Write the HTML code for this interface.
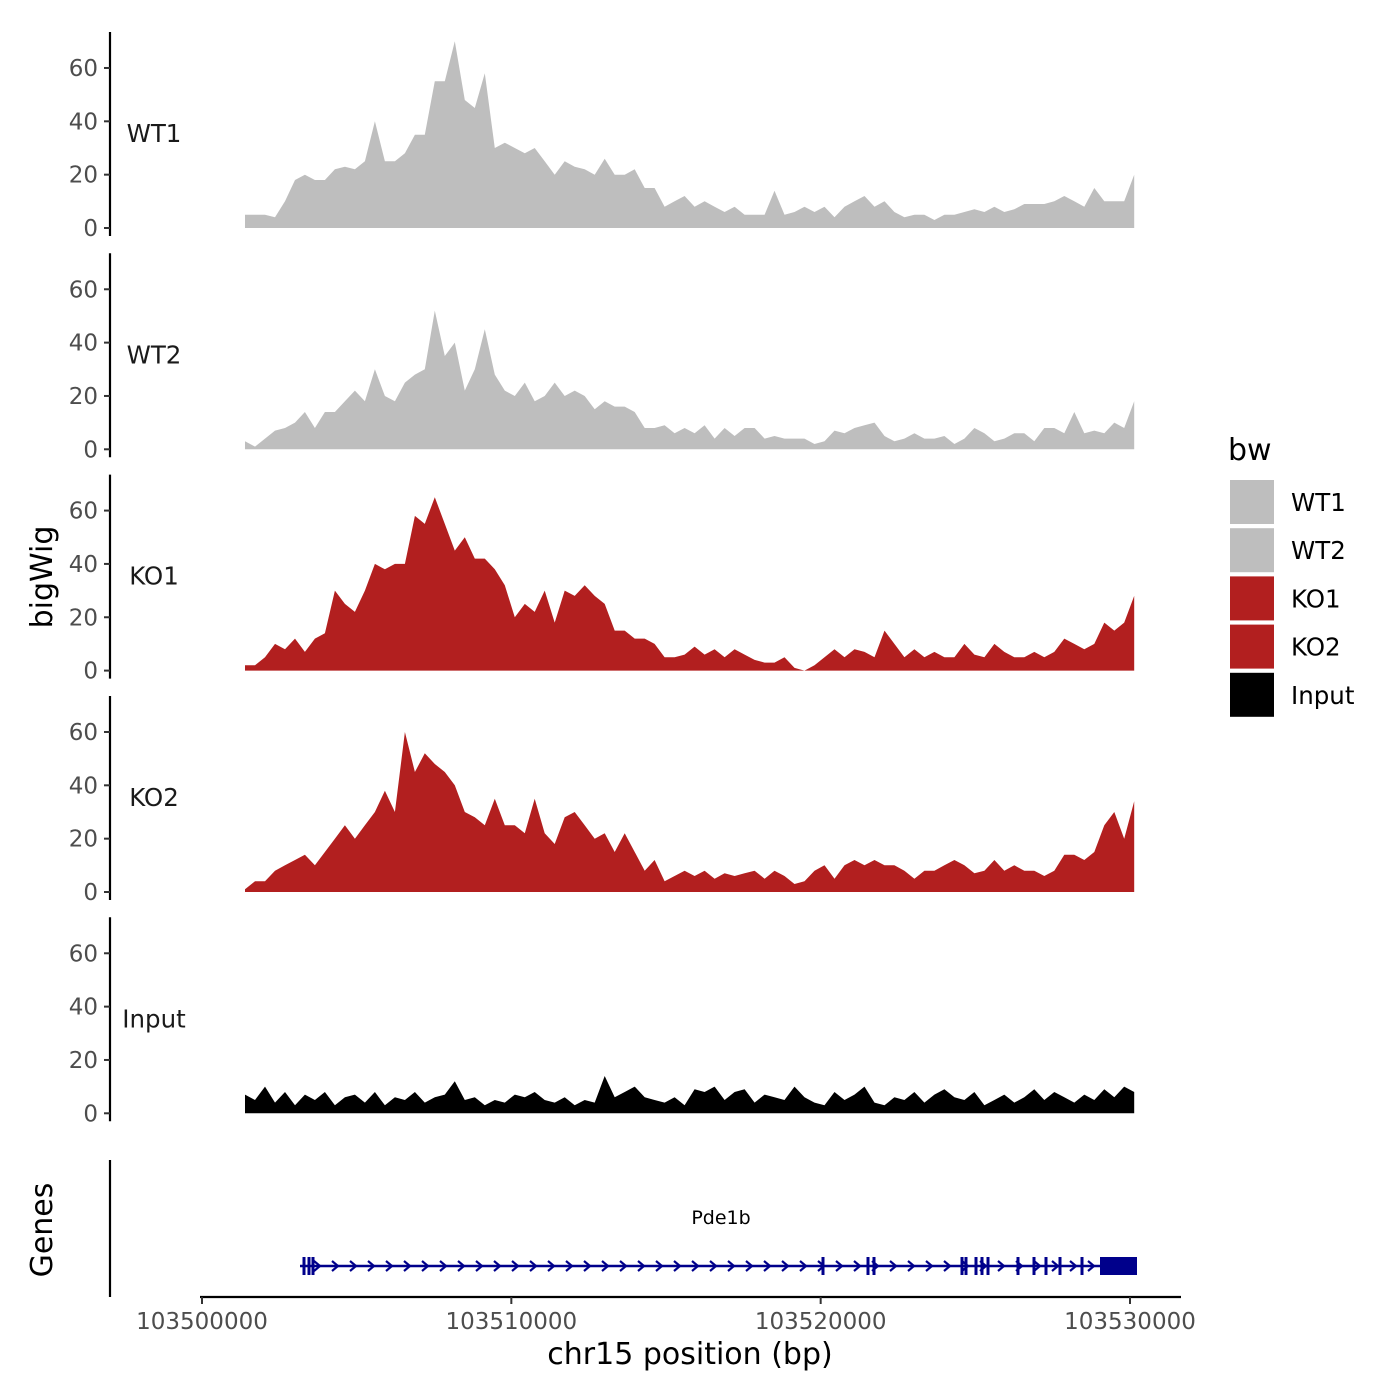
<!DOCTYPE html>
<html><head><meta charset="utf-8">
<style>
body{margin:0;background:#fff;}
svg{display:block;font-family:"DejaVu Sans","Liberation Sans",sans-serif;}
</style></head>
<body>
<svg id="chart" width="1400" height="1400" viewBox="0 0 1400 1400" xmlns="http://www.w3.org/2000/svg">
<g id="panels"></g>
<g id="genes"></g>
<g id="xaxis"></g>
<text transform="translate(52,577) rotate(-90)" text-anchor="middle" font-size="30" fill="#000">bigWig</text>
<text transform="translate(52,1230) rotate(-90)" text-anchor="middle" font-size="30" fill="#000">Genes</text>
<text x="690" y="1364" text-anchor="middle" font-size="30" fill="#000">chr15 position (bp)</text>
<g id="legend">
<text x="1228" y="460" font-size="30" fill="#000">bw</text>
</g>
</svg>
<script>
const NS="http://www.w3.org/2000/svg";
const sampleNames=["WT1","WT2","KO1","KO2","Input"];
const sampleColors=["#bebebe","#bebebe","#b21f1f","#b21f1f","#000000"];
const startBp=103501390, stepBp=323;
const wt1=[5,5,5,4,10,18,20,18,18,22,23,22,25,40,25,25,28,35,35,55,55,70,48,45,58,30,32,30,28,30,25,20,25,23,22,20,26,20,20,22,15,15,8,10,12,8,10,8,6,8,5,5,5,14,5,6,8,6,8,4,8,10,12,8,10,6,4,5,5,3,5,5,6,7,6,8,6,7,9,9,9,10,12,10,8,15,10,10,10,20];
const wt2=[3,1,4,7,8,10,14,8,14,14,18,22,18,30,20,18,25,28,30,52,35,40,22,30,45,28,22,20,25,18,20,25,20,22,20,15,18,16,16,14,8,8,9,6,8,6,9,4,8,5,8,8,4,5,4,4,4,2,3,7,6,8,9,10,5,3,4,6,4,4,5,2,4,8,6,3,4,6,6,3,8,8,6,14,6,7,6,10,8,18];
const ko1=[2,2,5,10,8,12,7,12,14,30,25,22,30,40,38,40,40,58,55,65,55,45,50,42,42,38,32,20,25,22,30,18,30,28,32,28,25,15,15,12,12,10,5,5,6,9,6,8,5,8,6,4,3,3,5,1,0,2,5,8,5,8,7,5,15,10,5,8,5,7,5,5,10,6,5,10,7,5,5,7,5,7,12,10,8,10,18,15,18,28];
const ko2=[1,4,4,8,10,12,14,10,15,20,25,20,25,30,38,30,60,45,52,48,45,40,30,28,25,35,25,25,22,35,22,18,28,30,25,20,22,15,22,15,8,12,4,6,8,6,8,5,7,6,7,8,5,8,6,3,4,8,10,5,10,12,10,12,10,10,8,5,8,8,10,12,10,7,8,12,8,10,8,8,6,8,14,14,12,15,25,30,20,34];
const inp=[7,5,10,4,8,3,7,5,8,3,6,7,4,8,3,6,5,8,4,6,7,12,5,6,3,5,4,7,6,8,5,4,6,3,5,4,14,6,8,10,6,5,4,6,3,9,8,10,5,8,9,4,7,6,5,10,6,4,3,8,5,7,10,4,3,6,5,8,4,7,9,6,5,8,3,5,7,4,6,9,5,8,6,4,7,5,9,6,10,8];
const seriesList=[wt1,wt2,ko1,ko2,inp];
const yTicks=[0,20,40,60];
const xTicks=[103500000,103510000,103520000,103530000];
const xScale=bp=>202+(bp-103500000)*928/30000;
const panelZero=[228,449.3,670.6,892,1113.3];
const yScale=(v,i)=>panelZero[i]-v*2.667;
function el(t,a,p){const e=document.createElementNS(NS,t);for(const k in a)e.setAttribute(k,a[k]);p.appendChild(e);return e;}
const panels=document.getElementById('panels');
seriesList.forEach((vals,i)=>{
  const g=el('g',{},panels);
  
  
  let d='M'+xScale(startBp)+','+yScale(0,i);
  vals.forEach((v,j)=>{d+=' L'+xScale(startBp+j*stepBp).toFixed(1)+','+yScale(v,i).toFixed(1);});
  d+=' L'+xScale(startBp+(vals.length-1)*stepBp).toFixed(1)+','+yScale(0,i)+' Z';
  const a=el('path',{d:d,fill:sampleColors[i]},g);
  
  
  const ax=el('line',{x1:110,x2:110,y1:panelZero[i]-196,y2:panelZero[i]+8,stroke:'#000','stroke-width':2.2},g);
  
  
  yTicks.forEach(t=>{
    const y=yScale(t,i);
    const tk=el('line',{x1:104,x2:110,y1:y,y2:y,stroke:'#333','stroke-width':2},g);
    
    
    const tl=el('text',{x:98,y:y+8,'text-anchor':'end','font-size':23,fill:'#4d4d4d'},g);
    tl.textContent=t;
    
    
  });
  const lb=el('text',{x:154,y:panelZero[i]-86,'text-anchor':'middle','font-size':24.5,fill:'#1a1a1a'},g);
  lb.textContent=sampleNames[i];
  
  
});
const G=document.getElementById('genes');
el('line',{x1:110,x2:110,y1:1160,y2:1297,stroke:'#000','stroke-width':2.2},G);
const gl=el('text',{x:721,y:1224,'text-anchor':'middle','font-size':19,fill:'#000'},G);
gl.textContent='Pde1b';


el('line',{x1:300,x2:1135,y1:1266,y2:1266,stroke:'#00008b','stroke-width':2.5},G);
for(let x=318;x<1095;x+=18){el('path',{d:`M${x-4},${1261} L${x+2},${1266} L${x-4},${1271}`,fill:'none',stroke:'#00008b','stroke-width':2.2},G);}
[304,309,313,823,868,874,962,966,976,982,988,1018,1034,1046,1060,1082].forEach(x=>{el('rect',{x:x-1.5,y:1257,width:3,height:18,fill:'#00008b'},G);});
const ex=el('rect',{x:1100,y:1257,width:37,height:18,fill:'#00008b'},G);


const X=document.getElementById('xaxis');
el('line',{x1:200,x2:1181,y1:1297,y2:1297,stroke:'#000','stroke-width':2.2},X);
xTicks.forEach(t=>{
  const x=xScale(t);
  el('line',{x1:x,x2:x,y1:1297,y2:1304,stroke:'#333','stroke-width':2},X);
  const tl=el('text',{x:x,y:1329,'text-anchor':'middle','font-size':23,fill:'#4d4d4d'},X);
  tl.textContent=t;
  
  
});
const L=document.getElementById('legend');
sampleNames.forEach((n,i)=>{
  const y=480+i*48.2;
  const r=el('rect',{x:1230,y:y,width:44,height:44,fill:sampleColors[i]},L);
  
  
  const t=el('text',{x:1291,y:y+31,'font-size':24.5,fill:'#000'},L);
  t.textContent=n;
  
  
});
</script>
</body></html>
